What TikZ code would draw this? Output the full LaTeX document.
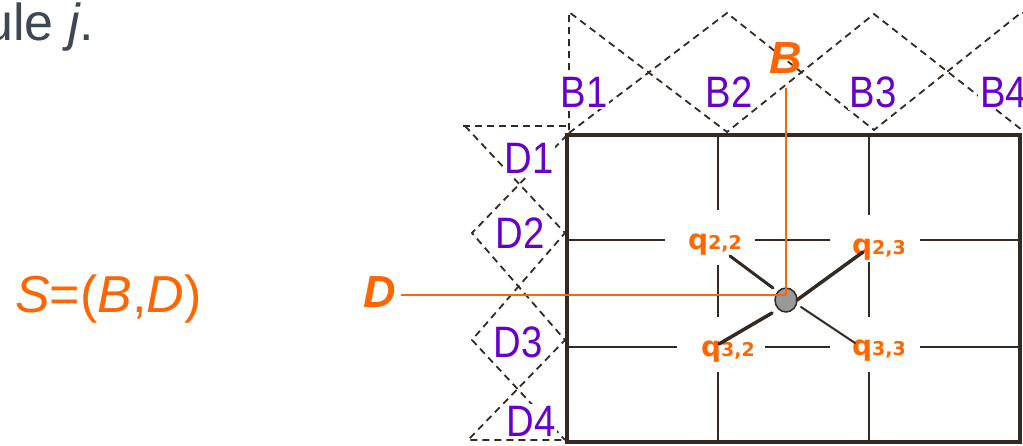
\documentclass[tikz,border=0pt]{standalone}
\usepackage{fontspec}
\usetikzlibrary{shapes.geometric}
\setmainfont{Liberation Sans}
\newfontfamily\lblfont[FakeStretch=0.87]{Liberation Sans}
\newfontfamily\qfont{DejaVu Sans}
\definecolor{orng}{RGB}{255,102,0}
\definecolor{purp}{RGB}{102,0,204}
\definecolor{dark}{RGB}{50,42,35}
\definecolor{txtgray}{RGB}{63,71,80}
\definecolor{dotgray}{RGB}{153,153,153}
\tikzset{
  dashline/.style={draw=dark, line width=1.8pt, dash pattern=on 7pt off 5pt},
  gridline/.style={draw=dark, line width=2pt},
  frameline/.style={draw=dark, line width=4pt},
  orangeline/.style={draw=orng, line width=1.8pt},
  blabel/.style={text=purp, font=\lblfont\fontsize{44}{44}\selectfont, fill=white, inner sep=2pt},
  biglabel/.style={text=orng, font=\fontsize{45}{45}\selectfont\bfseries\itshape, inner sep=1pt},
  qlabel/.style={text=orng, font=\qfont\bfseries, fill=white, inner sep=1pt},
  link/.style={draw=dark, line cap=round}
}
\newcommand{\qlab}[2]{{\fontsize{28}{28}\selectfont q}{\fontsize{19}{19}\selectfont #1,#2}}
\begin{document}
\begin{tikzpicture}[x=1pt,y=-1pt]
\useasboundingbox (0,0) rectangle (1023,445);
\clip (0,0) rectangle (1023,445);
% title fragment
\node[anchor=base west, text=txtgray, font=\fontsize{52}{52}\selectfont, inner sep=0pt] (title) at (-16,40) {ule \textit{j}.};
% formula
\node[anchor=base west, text=orng, font=\fontsize{52}{52}\selectfont, inner sep=0pt] (formula) at (15,312) {\textit{S}=(\textit{B},\textit{D})};
% dashed membership functions (B axis)
\draw[dashline] (569,130) -- (569,12) -- (727,132) -- (874,14) -- (1022,130) -- (1170,12);
\draw[dashline] (569,133) -- (727,13) -- (874,130) -- (1022,12) -- (1170,130);
\draw[dashline] (463,126) -- (569,126);
% dashed membership functions (D axis)
\draw[dashline] (465,126) -- (565,233) -- (472,340) -- (565,440);
\draw[dashline] (567,135) -- (472,233) -- (565,340) -- (468,440) -- (565,440);
% grid lines
\draw[gridline] (718,135) -- (718,210) (718,265) -- (718,317) (718,372) -- (718,442);
\draw[gridline] (869,135) -- (869,215) (869,262) -- (869,317) (869,372) -- (869,442);
\draw[gridline] (567,240) -- (665,240) (755,240) -- (830,240) (920,240) -- (1020,240);
\draw[gridline] (567,347) -- (677,347) (765,347) -- (830,347) (920,347) -- (1020,347);
% frame
\draw[frameline] (567,135) rectangle (1020,442);
% labels B and D
\node[blabel] (B1) at (584,92) {B1};
\node[blabel] (B2) at (729,92) {B2};
\node[blabel] (B3) at (873,92) {B3};
\node[blabel, anchor=west] (B4) at (978,92) {B4};
\node[blabel] (D1) at (529,158) {D1};
\node[blabel] (D2) at (520,233) {D2};
\node[blabel] (D3) at (518,342) {D3};
\node[blabel] (D4) at (531,421) {D4};
% point
\node[draw=dark, line width=1.5pt, fill=dotgray, ellipse, minimum width=22pt, minimum height=24pt, inner sep=0pt] (pt) at (786,300) {};
% q labels
\node[qlabel] (q22) at (715,245) {\qlab{2}{2}};
\node[qlabel] (q23) at (879,250) {\qlab{2}{3}};
\node[qlabel] (q32) at (728,352) {\qlab{3}{2}};
\node[qlabel] (q33) at (879,351) {\qlab{3}{3}};
% connector ends
\coordinate (a22) at (730,256); \coordinate (b22) at (773,288);
\coordinate (a23) at (863,252); \coordinate (b23) at (797,300);
\coordinate (a32) at (719,344); \coordinate (b32) at (772,313);
\coordinate (a33) at (855,343); \coordinate (b33) at (801,307);
\draw[link, line width=3pt] (b22) -- (a22);
\draw[link, line width=3.5pt] (b23) -- (a23);
\draw[link, line width=3.5pt] (b32) -- (a32);
\draw[link, line width=2pt] (b33) -- (a33);
% orange axes labels and lines
\node[biglabel] (Bl) at (786,58) {B};
\node[biglabel] (Dl) at (380,292) {D};
\coordinate (Btop) at (786,88);
\coordinate (Dleft) at (401,295);
\coordinate (cross) at (786,295);
\draw[orangeline] (Btop) -- (cross);
\draw[orangeline] (Dleft) -- (cross);
\end{tikzpicture}
\end{document}
